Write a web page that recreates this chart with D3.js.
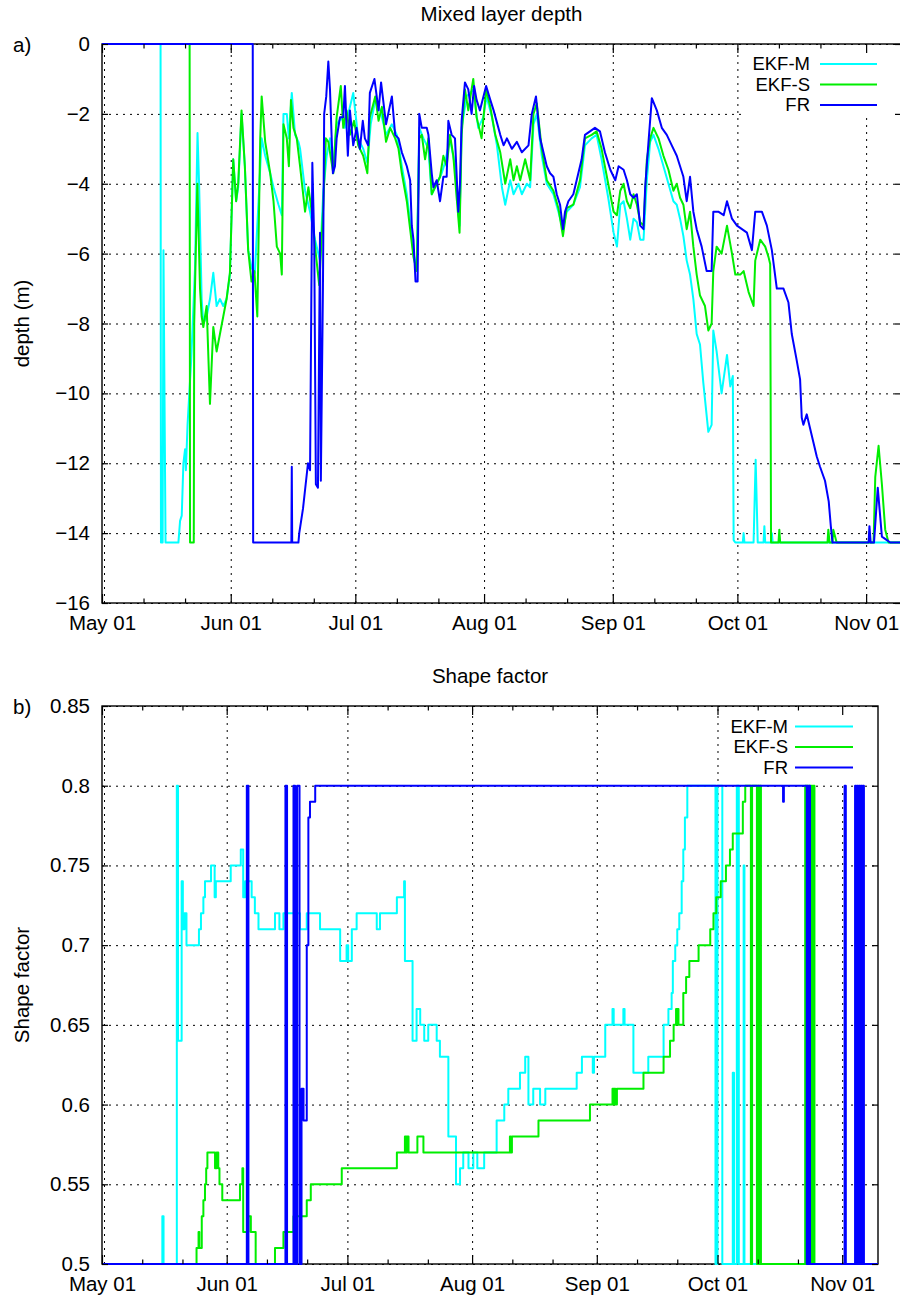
<!DOCTYPE html>
<html>
<head>
<meta charset="utf-8">
<script src="https://cdnjs.cloudflare.com/ajax/libs/d3/7.8.5/d3.min.js"></script>
<style>
  body { margin: 0; background: #fff; }
  svg text { font-family: "Liberation Sans", Arial, Helvetica, sans-serif; fill: #000; }
  .grid line { stroke: #000; stroke-width: 1; stroke-dasharray: 2,5; }
  .grid .domain, .ticks .domain { display: none; }
  .ticks line { stroke: #000; stroke-width: 1.2; }
</style>
</head>
<body>
<div id="chart"></div>
<script>
// ---- Data (x = days since May 01) ----
var monthTicks = [0, 31, 61, 92, 123, 153, 184];
var monthLabels = ["May 01", "Jun 01", "Jul 01", "Aug 01", "Sep 01", "Oct 01", "Nov 01"];
var minorTicks = [10, 20, 41, 51, 71, 81, 102, 112, 133, 143, 163, 173];

var depthTicks = [0, -2, -4, -6, -8, -10, -12, -14, -16];
var shapeTicks = [0.5, 0.55, 0.6, 0.65, 0.7, 0.75, 0.8, 0.85];
var shapeTickLabels = ["0.5", "0.55", "0.6", "0.65", "0.7", "0.75", "0.8", "0.85"];

var seriesNames = ["EKF-M", "EKF-S", "FR"];
var seriesColors = ["#00ffff", "#00ee00", "#0000ff"];

// Mixed layer depth (m)
var ekfmDepth = [[0,0],[14.1,0],[14.2,-14.27],[14.6,-14.27],[14.8,-5.9],[15.3,-14.27],[18.4,-14.27],[18.8,-13.65],[19.2,-13.5],[19.6,-12.0],[20.0,-11.6],[20.2,-12.2],[20.6,-10.9],[21.5,-9.0],[22.4,-6.4],[23.0,-2.55],[23.4,-4.1],[24.0,-7.3],[24.4,-8.0],[25.2,-7.8],[26.0,-7.3],[26.8,-6.55],[27.6,-7.5],[28.4,-7.3],[29.2,-7.5],[30.0,-7.3],[30.8,-6.6],[31.6,-3.3],[32.3,-4.5],[32.8,-4.1],[33.6,-2.0],[34.4,-3.5],[35.2,-5.9],[36.0,-6.4],[36.8,-6.55],[37.7,-4.5],[38.45,-2.7],[39.3,-3.2],[40.5,-3.7],[41.3,-4.1],[42.5,-4.6],[43.3,-4.9],[43.7,-2.0],[44.5,-2.0],[45.0,-2.7],[45.7,-1.4],[46.5,-2.6],[47.3,-2.8],[47.7,-3.0],[48.9,-4.2],[50.1,-4.8],[51.3,-5.6],[52.5,-6.2],[53.3,-4.2],[54.1,-3.2],[54.9,-2.7],[55.7,-3.5],[56.5,-2.3],[57.7,-2.1],[58.5,-2.4],[59.3,-2.0],[60.5,-1.4],[61.7,-2.7],[62.9,-3.0],[63.9,-3.4],[64.7,-2.3],[65.8,-1.6],[67.0,-1.9],[68.4,-2.6],[69.8,-2.3],[71.0,-2.6],[72.2,-3.5],[73.4,-4.3],[74.3,-5.2],[75.0,-6.0],[75.8,-6.4],[76.4,-2.4],[77.4,-2.7],[78.6,-3.0],[79.4,-4.3],[80.6,-4.0],[81.8,-3.7],[82.6,-3.4],[83.8,-2.7],[85.0,-3.5],[86.1,-5.2],[86.6,-2.4],[87.8,-1.5],[89.4,-1.3],[90.6,-2.4],[91.8,-2.1],[92.6,-1.5],[93.9,-2.1],[95.1,-2.9],[96.3,-4.1],[97.1,-4.6],[98.3,-3.9],[99.1,-4.3],[100.3,-4.0],[101.1,-4.3],[102.3,-4.0],[103.1,-4.1],[103.9,-2.3],[104.7,-2.0],[105.9,-3.2],[107.1,-4.0],[108.7,-4.3],[109.9,-4.8],[111.0,-5.3],[111.9,-4.8],[113.5,-4.6],[115.1,-4.1],[116.3,-2.9],[117.9,-2.7],[119.1,-2.6],[120.3,-3.3],[121.9,-4.4],[123.2,-5.4],[124.0,-5.8],[124.8,-4.6],[125.6,-4.5],[126.4,-5.0],[127.2,-5.6],[128.0,-5.0],[128.8,-5.1],[129.6,-5.6],[130.4,-5.6],[131.2,-3.9],[132.0,-2.8],[132.8,-2.6],[134.0,-3.0],[135.2,-3.5],[136.4,-4.0],[137.6,-4.5],[138.4,-4.6],[139.2,-5.0],[140.0,-5.5],[140.8,-6.2],[141.6,-6.6],[142.4,-7.3],[143.2,-8.3],[144.0,-8.6],[144.8,-9.7],[146.0,-11.1],[146.8,-10.9],[147.2,-8.2],[148.0,-8.8],[148.4,-9.2],[149.2,-10.0],[150.5,-8.9],[151.3,-9.8],[151.9,-9.5],[152.1,-14.2],[152.5,-14.27],[154.3,-14.27],[154.5,-14.0],[154.7,-14.27],[156.9,-14.27],[157.4,-11.9],[157.9,-14.27],[159.3,-14.27],[159.5,-13.8],[159.7,-14.27],[161.1,-14.27],[161.3,-14.0],[161.5,-14.27],[192.4,-14.27]];

var ekfsDepth = [[0,0],[21.1,0],[21.2,-14.27],[22.1,-14.27],[22.2,-8.0],[22.5,-6.4],[22.96,-4.0],[23.6,-7.0],[24.0,-7.8],[24.4,-8.1],[25.2,-7.5],[26.0,-10.3],[26.8,-8.1],[27.6,-8.8],[28.4,-8.3],[29.2,-7.8],[30.0,-7.3],[30.8,-6.55],[31.6,-3.3],[32.3,-4.5],[32.8,-4.0],[33.6,-1.9],[34.4,-3.5],[35.2,-5.9],[36.0,-6.8],[36.7,-6.5],[37.4,-7.8],[38.1,-2.7],[38.45,-1.5],[39.3,-2.8],[40.5,-3.7],[41.3,-4.5],[42.1,-5.8],[42.9,-6.0],[43.3,-6.6],[43.7,-2.3],[44.5,-2.7],[45.0,-3.5],[45.5,-1.6],[46.1,-2.4],[46.9,-2.7],[47.7,-3.5],[48.9,-4.8],[49.7,-4.1],[50.5,-4.8],[51.3,-5.8],[52.3,-6.9],[53.3,-4.6],[53.9,-2.7],[54.5,-2.8],[55.7,-3.7],[56.5,-2.1],[57.5,-1.2],[58.1,-2.4],[58.9,-1.9],[59.7,-2.6],[60.7,-2.2],[61.7,-2.9],[62.9,-3.2],[63.9,-3.7],[64.5,-2.1],[65.8,-1.5],[66.6,-2.2],[67.4,-1.8],[68.4,-2.8],[69.4,-2.4],[70.6,-2.7],[71.4,-3.0],[72.2,-3.7],[73.4,-4.5],[74.2,-5.3],[75.0,-6.1],[75.8,-6.5],[76.4,-2.7],[77.0,-2.6],[77.8,-3.3],[78.6,-2.7],[79.4,-4.3],[80.2,-4.1],[81.4,-3.8],[82.2,-3.2],[83.0,-3.5],[83.8,-2.6],[84.6,-3.2],[85.4,-4.4],[86.1,-5.4],[86.6,-2.6],[87.4,-1.3],[88.2,-1.9],[89.4,-1.0],[90.2,-2.1],[91.4,-2.7],[92.5,-1.3],[93.5,-1.8],[94.7,-2.6],[95.9,-3.1],[97.1,-4.0],[98.3,-3.3],[99.1,-3.9],[99.9,-3.5],[100.7,-3.9],[101.9,-3.3],[103.1,-3.9],[103.9,-2.0],[104.7,-1.7],[105.9,-3.0],[107.1,-3.9],[108.7,-4.2],[109.9,-4.7],[111.0,-5.5],[111.9,-4.7],[113.5,-4.6],[115.1,-3.9],[116.3,-2.7],[117.9,-2.6],[119.1,-2.5],[120.3,-3.0],[121.9,-4.0],[123.2,-4.8],[124.0,-4.9],[124.8,-4.2],[125.6,-4.0],[126.4,-4.5],[127.2,-4.7],[128.0,-4.3],[128.8,-4.6],[129.6,-5.1],[130.4,-5.2],[131.2,-3.3],[132.0,-2.7],[132.8,-2.4],[134.0,-2.7],[135.2,-3.2],[136.4,-3.6],[137.6,-4.2],[138.4,-4.0],[139.2,-4.4],[140.0,-4.6],[140.8,-5.3],[141.6,-4.8],[142.4,-5.8],[143.2,-6.6],[144.0,-7.2],[145.2,-7.5],[146.0,-8.2],[146.8,-8.0],[147.2,-6.5],[148.0,-5.8],[149.2,-6.0],[150.5,-5.2],[151.7,-6.0],[152.5,-6.6],[153.7,-6.6],[154.5,-6.5],[155.7,-7.1],[156.9,-7.5],[157.3,-6.2],[158.5,-5.6],[159.7,-5.8],[160.5,-6.1],[160.9,-6.3],[161.0,-9.8],[161.1,-14.27],[162.9,-14.27],[163.1,-13.9],[163.3,-14.27],[174.7,-14.27],[174.9,-13.9],[175.2,-14.27],[175.9,-14.27],[176.1,-13.9],[176.9,-14.27],[185.8,-14.27],[186.2,-12.4],[187.0,-11.5],[187.8,-12.6],[188.6,-13.9],[189.4,-14.27],[192.4,-14.27]];

var frDepth = [[0,0],[36.3,0],[36.4,-14.27],[45.6,-14.27],[45.7,-12.1],[45.8,-14.27],[47.3,-14.27],[47.5,-14.0],[48.4,-13.3],[49.6,-12.0],[50.1,-12.2],[50.65,-3.4],[51.1,-5.6],[51.5,-12.6],[52.0,-12.7],[52.5,-5.4],[52.7,-12.5],[53.2,-7.0],[53.5,-2.0],[54.0,-1.5],[54.5,-0.5],[54.9,-1.3],[55.6,-3.7],[56.1,-3.5],[56.5,-2.7],[57.3,-2.1],[58.1,-2.1],[58.5,-1.2],[59.2,-3.2],[59.7,-1.9],[60.5,-2.9],[61.3,-2.4],[62.1,-3.0],[62.8,-2.2],[63.3,-2.7],[64.1,-2.9],[64.5,-1.4],[65.6,-1.0],[66.6,-1.9],[67.2,-1.1],[68.4,-2.3],[69.8,-1.5],[70.6,-2.6],[71.4,-2.7],[72.2,-3.1],[73.4,-3.5],[74.2,-3.9],[74.6,-5.2],[75.0,-5.6],[75.5,-6.8],[76.0,-6.8],[76.4,-2.0],[77.0,-2.4],[78.2,-2.4],[78.6,-2.6],[79.4,-3.7],[79.8,-4.1],[80.6,-3.9],[81.4,-4.5],[82.2,-3.8],[83.0,-3.8],[83.4,-2.2],[84.2,-2.6],[85.0,-2.7],[85.8,-4.8],[86.2,-4.0],[86.6,-2.2],[87.4,-1.1],[88.2,-1.3],[89.0,-2.0],[89.6,-1.2],[90.2,-1.6],[91.0,-1.9],[92.5,-1.2],[93.5,-1.6],[94.3,-1.9],[95.9,-2.6],[96.7,-2.9],[97.5,-2.7],[98.7,-3.0],[99.9,-2.8],[101.1,-3.1],[102.7,-2.9],[103.5,-2.0],[104.5,-1.5],[105.5,-2.7],[106.3,-3.1],[107.1,-3.5],[107.9,-3.7],[108.7,-3.8],[109.5,-4.3],[110.3,-4.6],[111.0,-5.3],[111.5,-4.8],[112.3,-4.5],[113.5,-4.3],[114.3,-3.9],[115.5,-3.3],[116.3,-2.6],[117.5,-2.5],[118.7,-2.4],[119.9,-2.5],[121.1,-3.1],[122.4,-3.6],[123.6,-3.9],[124.4,-3.5],[125.6,-3.6],[126.4,-3.9],[127.2,-4.3],[128.0,-4.4],[128.8,-4.3],[129.6,-5.2],[130.4,-5.3],[130.8,-4.1],[131.6,-2.8],[132.4,-1.55],[133.6,-1.9],[134.8,-2.4],[136.0,-2.6],[137.2,-2.9],[138.4,-3.2],[139.2,-3.5],[140.0,-3.8],[140.8,-4.5],[141.6,-3.8],[142.4,-4.8],[143.2,-5.3],[144.4,-5.8],[145.6,-6.5],[146.8,-6.5],[147.2,-4.8],[148.4,-4.8],[149.7,-4.9],[150.5,-4.5],[151.7,-5.0],[152.9,-5.2],[154.1,-5.3],[155.3,-5.4],[156.5,-5.9],[157.3,-4.8],[158.9,-4.8],[160.1,-5.2],[161.3,-5.9],[162.5,-7.0],[164.1,-7.0],[165.3,-7.4],[166.1,-8.3],[167.2,-9.0],[168.1,-9.6],[168.5,-10.7],[168.9,-10.9],[169.7,-10.6],[170.5,-11.0],[171.3,-11.4],[172.1,-11.8],[172.9,-12.1],[174.1,-12.5],[175.0,-13.1],[175.5,-13.8],[175.9,-14.27],[184.6,-14.27],[184.8,-13.8],[185.1,-14.27],[185.9,-14.27],[186.8,-12.7],[187.8,-14.1],[189.0,-14.2],[189.8,-14.27],[192.4,-14.27]];

// Shape factor (step series: value holds until next point)
var ekfmShape = [[0,0.5],[15.0,0.53],[15.3,0.5],[18.6,0.8],[18.9,0.64],[19.8,0.74],[20.1,0.71],[20.5,0.72],[21.0,0.70],[24.1,0.71],[24.6,0.72],[25.2,0.73],[25.6,0.74],[27.1,0.75],[28.0,0.73],[28.3,0.74],[32.0,0.75],[34.5,0.76],[35.1,0.73],[35.6,0.74],[37.2,0.73],[38.0,0.72],[38.9,0.71],[43.0,0.72],[44.1,0.71],[45.1,0.72],[49.2,0.71],[50.9,0.72],[54.2,0.71],[59.2,0.69],[60.8,0.70],[61.2,0.69],[62.1,0.71],[63.3,0.72],[68.3,0.71],[69.1,0.72],[73.3,0.73],[75.1,0.74],[75.3,0.69],[77.2,0.64],[78.2,0.66],[79.1,0.65],[80.1,0.64],[81.1,0.65],[83.2,0.64],[84.0,0.63],[86.1,0.58],[88.0,0.55],[89.0,0.56],[89.8,0.57],[91.1,0.56],[92.3,0.57],[93.3,0.56],[95.0,0.57],[98.1,0.59],[100.0,0.60],[101.0,0.61],[103.9,0.62],[105.2,0.63],[106.0,0.60],[107.2,0.61],[108.9,0.60],[110.2,0.61],[118.0,0.62],[119.3,0.63],[122.0,0.62],[122.3,0.63],[125.1,0.65],[126.9,0.66],[127.2,0.65],[129.6,0.66],[129.9,0.65],[132.1,0.62],[135.8,0.63],[139.6,0.65],[140.8,0.66],[141.6,0.67],[141.9,0.69],[142.5,0.70],[143.0,0.71],[143.5,0.72],[144.1,0.74],[144.5,0.76],[144.9,0.78],[145.5,0.8],[152.5,0.5],[153.0,0.8],[154.2,0.5],[156.8,0.62],[157.1,0.5],[157.8,0.8],[158.3,0.5],[159.5,0.75],[159.7,0.5],[192.9,0.5]];

var ekfsShape = [[0,0.5],[23.5,0.51],[24.0,0.52],[24.2,0.51],[24.8,0.53],[25.2,0.54],[25.6,0.55],[25.9,0.56],[26.2,0.57],[28.1,0.56],[28.5,0.57],[28.9,0.56],[29.2,0.55],[29.9,0.54],[34.3,0.55],[34.9,0.56],[35.1,0.52],[36.4,0.53],[37.0,0.52],[38.2,0.5],[43.0,0.51],[45.1,0.52],[47.6,0.53],[50.9,0.54],[51.9,0.55],[59.6,0.56],[73.3,0.57],[75.3,0.58],[75.6,0.57],[75.8,0.58],[76.2,0.57],[78.4,0.58],[79.9,0.57],[101.4,0.58],[101.6,0.57],[101.9,0.58],[108.5,0.59],[121.3,0.60],[126.9,0.61],[127.1,0.60],[127.3,0.61],[127.6,0.60],[128.0,0.61],[134.6,0.62],[139.6,0.63],[141.2,0.64],[142.1,0.65],[142.7,0.66],[142.9,0.65],[143.0,0.66],[143.3,0.65],[144.5,0.67],[145.2,0.68],[146.0,0.69],[148.3,0.70],[151.2,0.71],[152.0,0.72],[152.7,0.73],[153.8,0.74],[155.1,0.75],[156.1,0.76],[156.8,0.77],[159.3,0.79],[159.9,0.8],[161.3,0.5],[161.6,0.8],[162.8,0.5],[163.05,0.8],[163.3,0.5],[163.55,0.8],[163.8,0.5],[174.8,0.8],[175.0,0.5],[175.2,0.8],[175.5,0.5],[175.8,0.8],[176.1,0.5],[176.35,0.8],[176.6,0.5],[176.85,0.8],[177.1,0.5],[192.9,0.5]];

var frShape = [[0,0.5],[36.0,0.8],[36.4,0.5],[45.6,0.8],[46.0,0.5],[47.6,0.8],[48.0,0.5],[48.5,0.8],[49.1,0.5],[49.6,0.61],[50.1,0.59],[50.9,0.7],[51.3,0.78],[51.7,0.79],[53.0,0.8],[169.3,0.79],[169.5,0.8],[175.2,0.5],[175.4,0.8],[175.6,0.5],[175.8,0.8],[176.0,0.5],[184.6,0.8],[184.9,0.5],[187.2,0.8],[187.45,0.5],[187.7,0.8],[187.95,0.5],[188.2,0.8],[188.45,0.5],[188.7,0.8],[188.95,0.5],[189.2,0.8],[189.4,0.5],[192.9,0.5]];

// ---- Chart setup ----
var svgWidth = 900;
var svgHeight = 1297;

var svg = d3.select("#chart")
  .append("svg")
  .attr("width", svgWidth)
  .attr("height", svgHeight);

function drawPanel(p) {
  var width = p.width;
  var height = p.height;

  var g = svg.append("g")
    .attr("transform", `translate(${p.left}, ${p.top})`);

  var xScale = d3.scaleLinear().domain([0, p.xMax]).range([0, width]);
  var yScale = d3.scaleLinear().domain(p.yDomain).range([height, 0]);

  // grid
  g.append("g")
    .attr("class", "grid")
    .attr("transform", `translate(0, ${height})`)
    .call(d3.axisBottom(xScale).tickValues(monthTicks).tickSize(-height).tickFormat(""));
  // May 01 grid sits just right of the axis line
  g.select(".grid").select(".tick line").attr("transform", "translate(2,0)");

  g.append("g")
    .attr("class", "grid")
    .call(d3.axisLeft(yScale).tickValues(p.yTicks).tickSize(-width).tickFormat(""));

  // frame
  g.append("rect")
    .attr("width", width)
    .attr("height", height)
    .attr("fill", "none")
    .attr("stroke", "#000")
    .attr("stroke-width", 1.4);

  // series
  var line = d3.line()
    .x(d => xScale(d[0]))
    .y(d => yScale(d[1]))
    .curve(p.curve);

  p.series.forEach(function (s, i) {
    g.append("path")
      .datum(s)
      .attr("fill", "none")
      .attr("stroke", seriesColors[i])
      .attr("stroke-width", 2)
      .attr("stroke-linejoin", "round")
      .attr("d", line);
  });

  // legend (white box, no border)
  g.append("rect")
    .attr("x", p.legend.boxX)
    .attr("y", 1)
    .attr("width", width - p.legend.boxX - 1)
    .attr("height", p.legend.boxH)
    .attr("fill", "#fff");

  seriesNames.forEach(function (name, i) {
    var ly = p.legend.y0 + i * 20.5;
    g.append("text")
      .attr("x", p.legend.textX)
      .attr("y", ly)
      .attr("dy", "0.35em")
      .attr("text-anchor", "end")
      .style("font-size", "18.5px")
      .text(name);
    g.append("line")
      .attr("x1", p.legend.lineX1)
      .attr("x2", p.legend.lineX2)
      .attr("y1", ly)
      .attr("y2", ly)
      .attr("stroke", seriesColors[i])
      .attr("stroke-width", 2);
  });

  // axes: labelled bottom + left, plain ticks on top + right
  var xAxis = g.append("g")
    .attr("class", "ticks")
    .attr("transform", `translate(0, ${height})`)
    .call(d3.axisBottom(xScale).tickValues(monthTicks).tickSize(-9).tickPadding(12.5)
      .tickFormat((d, i) => monthLabels[i]));
  xAxis.selectAll("text").style("font-size", "20.5px");

  g.append("g")
    .attr("class", "ticks")
    .attr("transform", `translate(0, ${height})`)
    .call(d3.axisBottom(xScale).tickValues(minorTicks).tickSize(-4.5).tickFormat(""));

  g.append("g")
    .attr("class", "ticks")
    .call(d3.axisTop(xScale).tickValues(monthTicks).tickSize(-9).tickFormat(""));

  g.append("g")
    .attr("class", "ticks")
    .call(d3.axisTop(xScale).tickValues(minorTicks).tickSize(-4.5).tickFormat(""));

  var yAxis = g.append("g")
    .attr("class", "ticks")
    .call(d3.axisLeft(yScale).tickValues(p.yTicks).tickSize(-6).tickPadding(12)
      .tickFormat(p.yFormat));
  yAxis.selectAll("text").style("font-size", "20.5px");

  g.append("g")
    .attr("class", "ticks")
    .attr("transform", `translate(${width}, 0)`)
    .call(d3.axisRight(yScale).tickValues(p.yTicks).tickSize(-6).tickFormat(""));

  // titles
  svg.append("text")
    .attr("x", p.left + width / 2)
    .attr("y", p.titleY)
    .attr("text-anchor", "middle")
    .style("font-size", "20.5px")
    .text(p.title);

  svg.append("text")
    .attr("x", 13)
    .attr("y", p.top + 7.5)
    .style("font-size", "20.5px")
    .text(p.tag);

  svg.append("text")
    .attr("transform", `translate(29, ${p.top + height / 2}) rotate(-90)`)
    .attr("text-anchor", "middle")
    .style("font-size", "20.5px")
    .text(p.yLabel);
}

// a) Mixed layer depth
drawPanel({
  left: 102, top: 44, width: 799, height: 559, xMax: 192.4,
  yDomain: [-16, 0], yTicks: depthTicks,
  yFormat: d => d < 0 ? "\u2212" + Math.abs(d) : String(d),
  curve: d3.curveLinear,
  series: [ekfmDepth, ekfsDepth, frDepth],
  legend: { boxX: 640, boxH: 71, y0: 20, textX: 708, lineX1: 718, lineX2: 775 },
  title: "Mixed layer depth", titleY: 21, tag: "a)", yLabel: "depth (m)"
});

// b) Shape factor
drawPanel({
  left: 102, top: 706, width: 776, height: 558, xMax: 192.9,
  yDomain: [0.5, 0.85], yTicks: shapeTicks,
  yFormat: (d, i) => shapeTickLabels[i],
  curve: d3.curveStepAfter,
  series: [ekfmShape, ekfsShape, frShape],
  legend: { boxX: 622, boxH: 77, y0: 20.5, textX: 686, lineX1: 693, lineX2: 751 },
  title: "Shape factor", titleY: 683, tag: "b)", yLabel: "Shape factor"
});
</script>
</body>
</html>
